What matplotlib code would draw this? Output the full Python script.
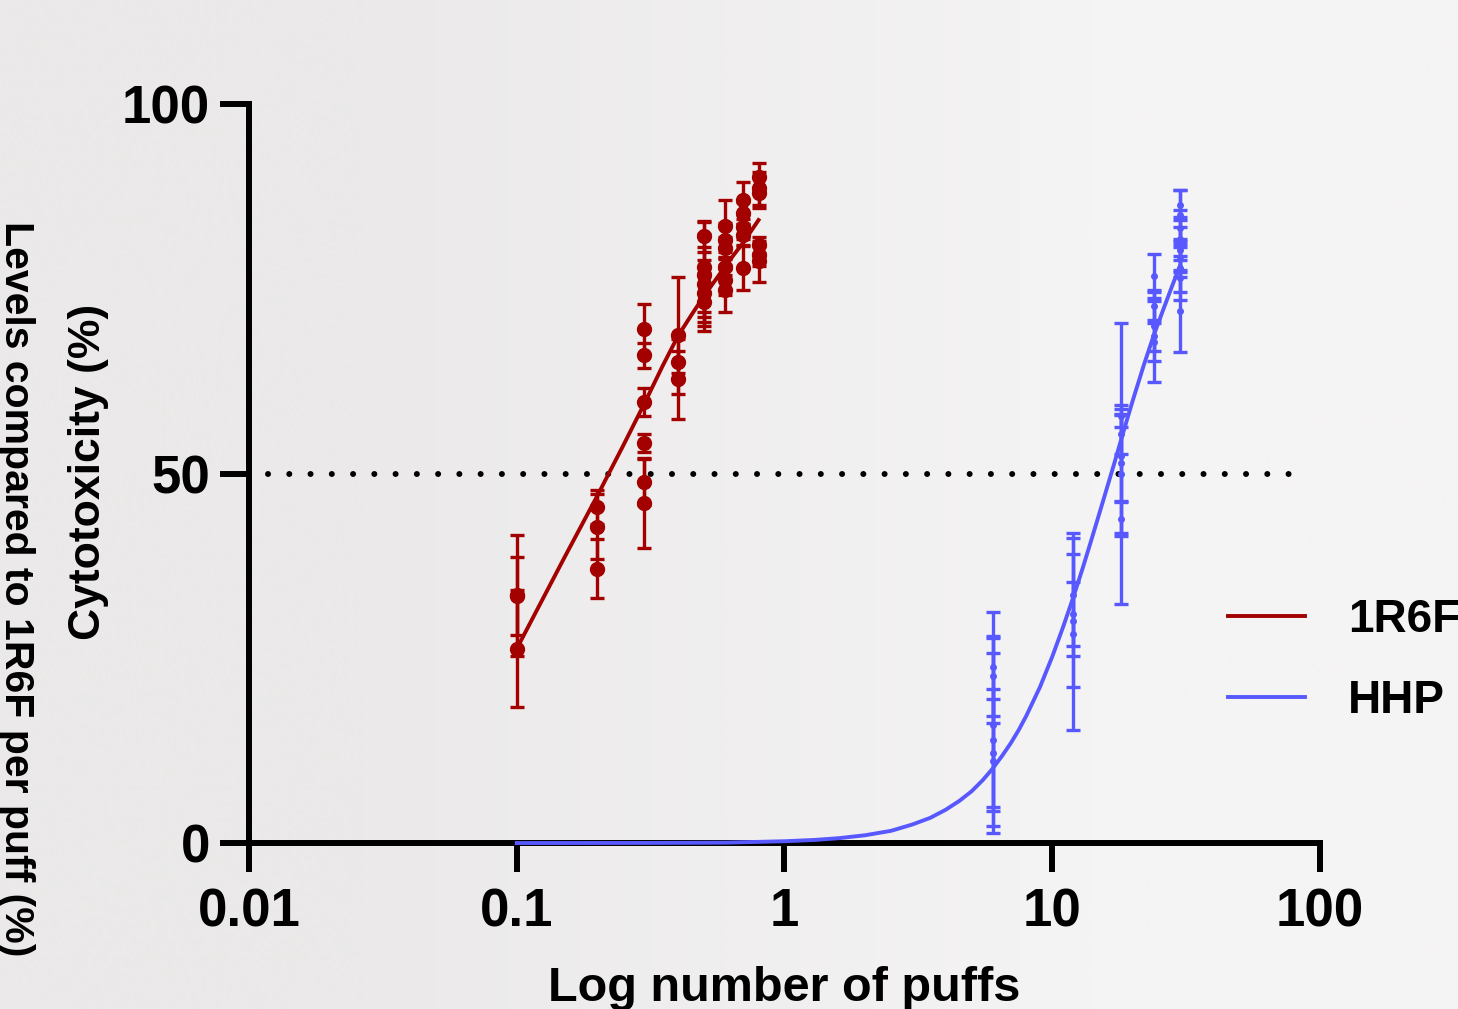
import matplotlib.pyplot as plt
from matplotlib.colors import to_rgb

plt.rcParams['font.family'] = ['Liberation Sans', 'DejaVu Sans']
plt.rcParams['font.weight'] = 'bold'

RED = '#a30000'
BLUE = '#5858ff'

# 1R6F measurements: puffs, mean cytotoxicity (%), error
r_puffs = [0.1, 0.1, 0.1,
           0.2, 0.2, 0.2,
           0.3, 0.3, 0.3, 0.3, 0.3, 0.3,
           0.4, 0.4, 0.4,
           0.5, 0.5, 0.5, 0.5, 0.5, 0.5,
           0.6, 0.6, 0.6, 0.6, 0.6, 0.6,
           0.7, 0.7, 0.7, 0.7, 0.7,
           0.8, 0.8, 0.8, 0.8, 0.8, 0.8]
r_mean = [33.4, 33.5, 26.3,
          45.5, 42.8, 37.1,
          69.6, 66.0, 59.7, 54.1, 48.9, 46.0,
          68.7, 65.1, 62.8,
          82.1, 78.0, 76.8, 75.6, 74.4, 73.2,
          83.5, 81.6, 80.5, 78.0, 76.2, 74.8,
          87.0, 85.2, 83.4, 82.3, 77.8,
          90.1, 88.6, 88.0, 80.9, 79.6, 78.7]
r_err = [5.3, 8.2, 7.9,
         2.3, 4.4, 4.0,
         3.4, 1.7, 1.9, 1.2, 3.1, 6.1,
         7.9, 1.5, 5.4,
         2.1, 6.1, 5.6, 5.1, 4.5, 3.9,
         3.5, 2.3, 1.5, 1.2, 2.0, 2.9,
         2.5, 1.5, 1.6, 1.4, 3.0,
         1.9, 2.2, 2.1, 1.1, 1.5, 2.8]

# HHP measurements
h_puffs = [6, 6, 6, 6, 6, 6,
           12, 12, 12, 12,
           18, 18, 18, 18, 18, 18,
           24, 24, 24, 24, 24,
           30, 30, 30, 30, 30, 30, 30, 30, 30]
h_mean = [23.8, 22.6, 16.0, 14.0, 12.2, 11.1,
          33.6, 31.0, 30.1, 28.3,
          57.8, 55.4, 52.4, 51.4, 49.9, 43.9,
          76.7, 72.7, 70.0, 68.6, 67.8,
          86.3, 85.0, 83.2, 81.8, 80.3, 79.0, 77.8, 76.5, 72.0]
h_err = [7.5, 5.4, 11.7, 11.7, 7.3, 9.7,
         8.3, 4.3, 9.0, 13.0,
         1.5, 2.7, 6.3, 19.0, 8.0, 2.4,
         3.0, 1.9, 3.4, 6.2, 2.6,
         2.0, 3.3, 2.5, 2.9, 3.0, 2.4, 3.2, 3.0, 5.5]

# fitted curves
r_fit_x = [0.1, 0.15, 0.2, 0.25, 0.3, 0.35, 0.4, 0.45, 0.5, 0.55, 0.6,
           0.65, 0.7, 0.75, 0.8]
r_fit_y = [26.3, 38.5, 47.0, 53.8, 59.5, 64.5, 68.6, 71.5, 74.0, 76.1, 78.0,
           79.7, 81.2, 82.8, 84.3]

h_fit_x = [0.1, 0.3, 0.6, 1, 1.3, 1.6, 2, 2.5, 3, 3.5, 4, 4.5, 5, 5.5, 6,
           6.5, 7, 7.5, 8, 9, 10, 11, 12, 13, 14, 15, 16, 17, 18, 19, 20,
           22, 24, 26, 28, 30]
h_fit_y = [0.0, 0.01, 0.05, 0.24, 0.42, 0.66, 1.05, 1.65, 2.5, 3.4, 4.5,
           5.7, 7.0, 8.5, 10.1, 11.8, 13.5, 15.3, 17.2, 21.1, 25.2, 29.3,
           33.3, 37.2, 41.0, 44.6, 48.0, 51.2, 54.3, 57.2, 59.9, 64.7, 68.8,
           72.2, 75.3, 78.1]

threshold = 50
x_ticks = [0.01, 0.1, 1, 10, 100]
x_labels = ['0.01', '0.1', '1', '10', '100']
y_ticks = [0, 50, 100]

fig = plt.figure(figsize=(14.58, 10.09), dpi=100, facecolor='#f0eeee')

# soft left-to-right background shading like the slide it came from
bg = fig.add_axes([0, 0, 1, 1], zorder=-10)
bg.imshow([[to_rgb('#ebe9e9'), to_rgb('#f5f4f4')]], aspect='auto',
          interpolation='bilinear', extent=(0, 1, 0, 1))
bg.axis('off')

ax = fig.add_axes([0.1708, 0.1645, 0.7345, 0.7324])
ax.patch.set_alpha(0)

# 50% line
ax.plot([0.0118, 90], [threshold, threshold], color='black', lw=4.3,
        linestyle=(0, (0.01, 3.55)), dash_capstyle='round', zorder=1)

ax.errorbar(r_puffs, r_mean, yerr=r_err, fmt='o', ms=10, color=RED,
            ecolor=RED, elinewidth=2.4, capsize=5, capthick=2.4, zorder=3)
ax.errorbar(h_puffs, h_mean, yerr=h_err, fmt='o', ms=4, color=BLUE,
            ecolor=BLUE, elinewidth=2.4, capsize=5, capthick=2.4, zorder=3)

ax.plot(r_fit_x, r_fit_y, color=RED, lw=2.8, label='1R6F', zorder=4)
ax.plot(h_fit_x, h_fit_y, color=BLUE, lw=2.8, label='HHP', zorder=4,
        clip_on=False)

ax.set_xscale('log')
ax.set_xlim(0.01, 100)
ax.set_ylim(0, 100)
ax.set_xticks(x_ticks)
ax.set_xticklabels(x_labels)
ax.set_yticks(y_ticks)
ax.minorticks_off()

for side in ['top', 'right']:
    ax.spines[side].set_visible(False)
for side in ['left', 'bottom']:
    ax.spines[side].set_linewidth(4.3)

ax.tick_params(axis='both', direction='out', length=21, width=4.3,
               labelsize=38)
ax.tick_params(axis='y', pad=7)
ax.tick_params(axis='x', pad=11)

ax.set_xlabel('Log number of puffs', fontsize=35, fontweight='bold')
ax.xaxis.set_label_coords(0.5, -0.166)
ax.set_ylabel('Cytotoxicity (%)', fontsize=32, fontweight='bold')
ax.yaxis.set_label_coords(-0.131, 0.502)

fig.text(0.011, 0.417, 'Levels compared to 1R6F per puff (%)',
         rotation=270, fontsize=29.5, fontweight='bold',
         ha='center', va='center')

ax.legend(loc='center left', bbox_to_anchor=(1228 / 1458, 0.3454),
          bbox_transform=fig.transFigure, frameon=False, fontsize=33,
          handlelength=1.68, handletextpad=0.94, labelspacing=0.8,
          borderpad=0, borderaxespad=0)

fig.savefig('out.png', dpi=100, facecolor=fig.get_facecolor())
